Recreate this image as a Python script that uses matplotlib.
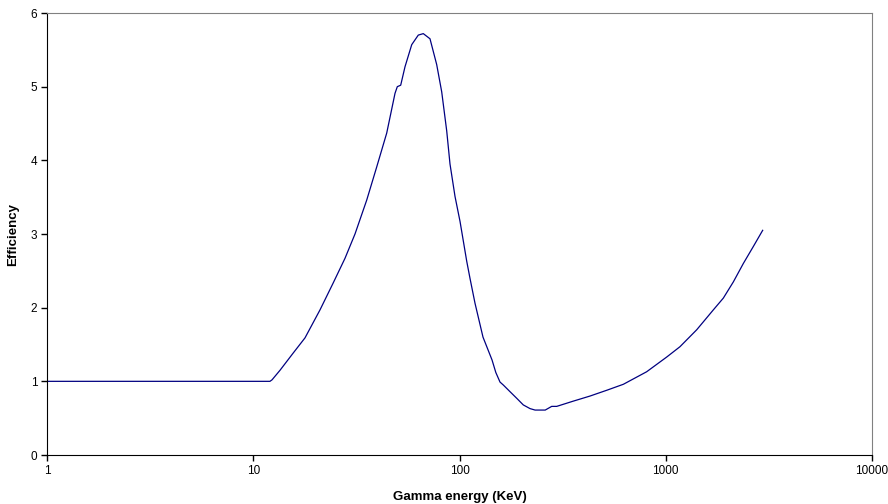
import numpy as np
import matplotlib
matplotlib.use("Agg")
import matplotlib.pyplot as plt
from matplotlib.ticker import FixedLocator, NullLocator

plt.rcParams['font.family'] = ['Liberation Sans', 'DejaVu Sans']

# gamma energy (keV) and efficiency
energy = [1, 12.05, 12.33, 13.48, 15.58, 17.82, 21.07, 24.36, 27.85, 31.14,
          35.49, 39.68, 44.37, 48.68, 49.94, 51.87, 54.42, 58.66, 63.12, 66.75,
          71.94, 77.52, 81.98, 86.69, 89.94, 95.11, 100.6, 108.4, 112.4, 118.9,
          130.0, 143.8, 150.0, 157.2, 163.1, 175.7, 189.4, 203.8, 219.7, 232.5,
          260.4, 279.9, 296, 355, 429, 519, 623, 808, 1011, 1172,
          1413, 1701, 1902, 2127, 2378, 2658, 2951]
efficiency = [1.0, 1.0, 1.02, 1.15, 1.38, 1.59, 1.97, 2.33, 2.67, 3.00,
              3.46, 3.91, 4.37, 4.91, 5.00, 5.02, 5.27, 5.57, 5.70, 5.72,
              5.65, 5.30, 4.93, 4.40, 3.95, 3.51, 3.17, 2.63, 2.40, 2.06,
              1.60, 1.29, 1.12, 0.99, 0.95, 0.86, 0.77, 0.68, 0.63, 0.61,
              0.61, 0.66, 0.66, 0.73, 0.80, 0.88, 0.96, 1.13, 1.33, 1.47,
              1.70, 1.97, 2.13, 2.35, 2.60, 2.83, 3.05]

xticks = [1, 10, 100, 1000, 10000]
yticks = [0, 1, 2, 3, 4, 5, 6]

fig = plt.figure(figsize=(8.88, 5.04), dpi=100)
ax = fig.add_axes([47/888, 1-455/504, 825/888, 442/504])

ax.plot(energy, efficiency, color='#000080', lw=0.9)

ax.set_xscale('log')
ax.set_xlim(1, 10000)
ax.set_ylim(0, 6)
ax.xaxis.set_major_locator(FixedLocator(xticks))
ax.xaxis.set_minor_locator(NullLocator())
ax.set_xticklabels([str(t) for t in xticks])
ax.set_yticks(yticks)
ax.tick_params(axis='both', direction='out', length=4, width=1, labelsize=8.5, pad=3)

for side in ['top', 'right']:
    ax.spines[side].set_color('#808080')
for side in ['left', 'bottom']:
    ax.spines[side].set_color('black')

ax.set_xlabel("Gamma energy (KeV)", fontsize=9.5, fontweight='bold', labelpad=10)
ax.set_ylabel("Efficiency", fontsize=9.5, fontweight='bold', labelpad=8)

fig.savefig("out.png", dpi=100)
